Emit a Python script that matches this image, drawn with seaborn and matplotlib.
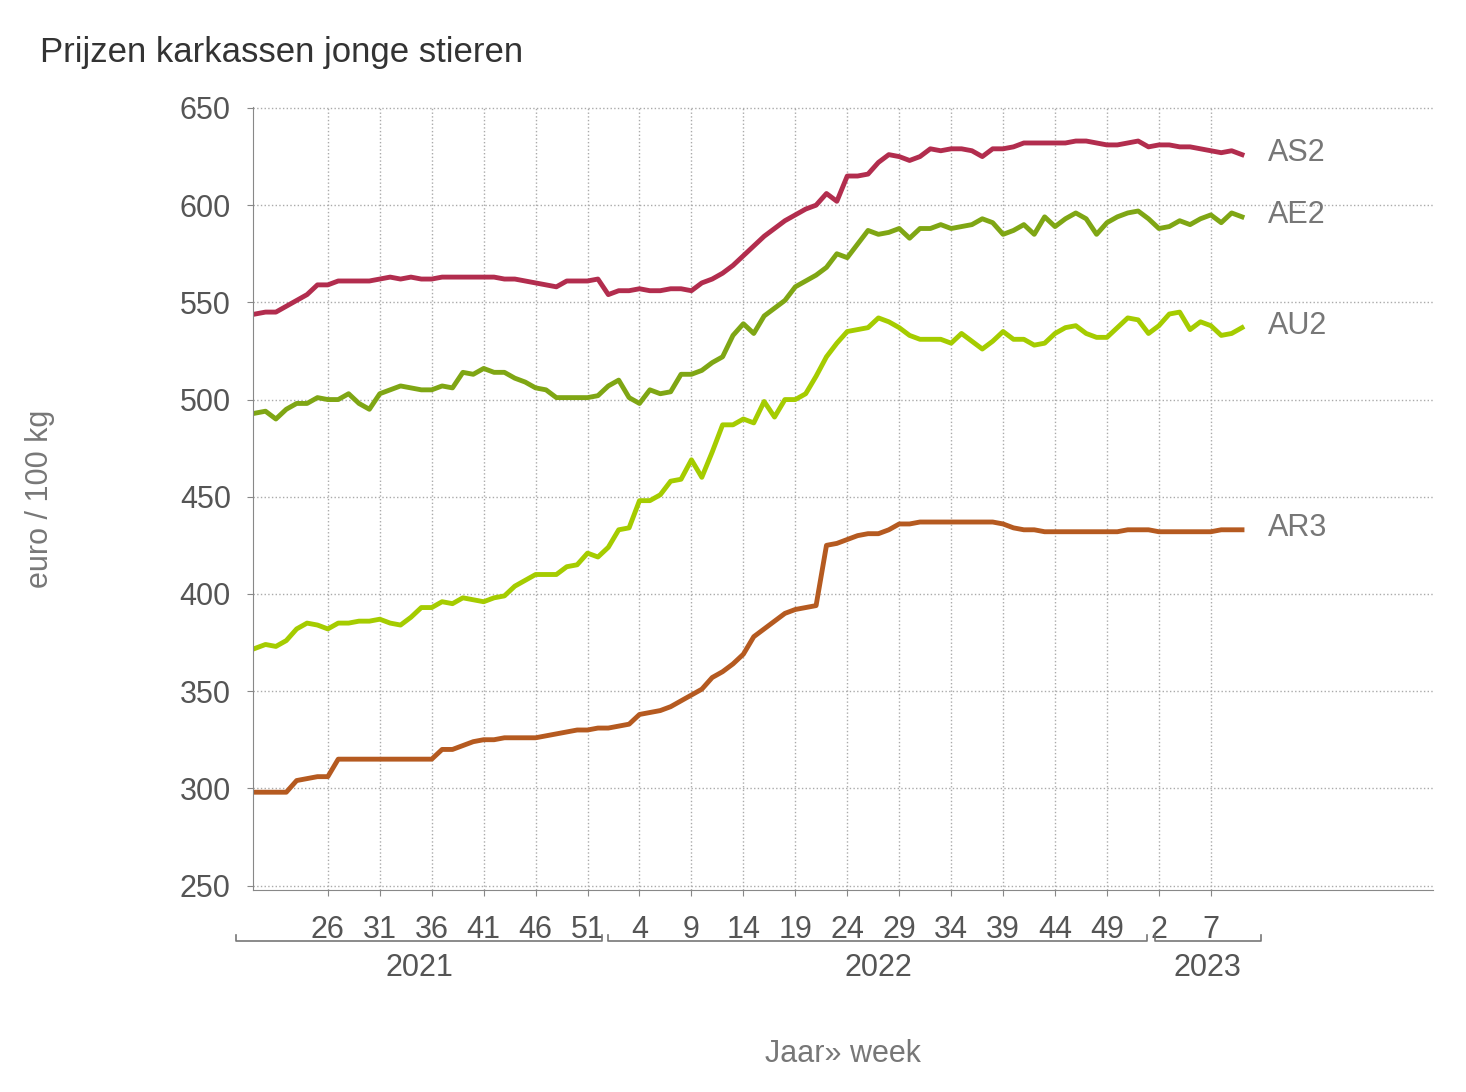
import numpy as np
import pandas as pd
import seaborn as sns
import matplotlib.pyplot as plt
import matplotlib.transforms as mtrans

plt.rcParams["font.family"] = "Liberation Sans"

# weeks: 2021 w19 .. 2023 w10
years = [2021] * 34 + [2022] * 52 + [2023] * 10
weeks = list(range(19, 53)) + list(range(1, 53)) + list(range(1, 11))

AS2 = [544,545,545,548,551,554,559,559,561,561,
       561,561,562,563,562,563,562,562,563,563,
       563,563,563,563,562,562,561,560,559,558,
       561,561,561,562,554,556,556,557,556,556,
       557,557,556,560,562,565,569,574,579,584,
       588,592,595,598,600,606,602,615,615,616,
       622,626,625,623,625,629,628,629,629,628,
       625,629,629,630,632,632,632,632,632,633,
       633,632,631,631,632,633,630,631,631,630,
       630,629,628,627,628,626]
AE2 = [493,494,490,495,498,498,501,500,500,503,
       498,495,503,505,507,506,505,505,507,506,
       514,513,516,514,514,511,509,506,505,501,
       501,501,501,502,507,510,501,498,505,503,
       504,513,513,515,519,522,533,539,534,543,
       547,551,558,561,564,568,575,573,580,587,
       585,586,588,583,588,588,590,588,589,590,
       593,591,585,587,590,585,594,589,593,596,
       593,585,591,594,596,597,593,588,589,592,
       590,593,595,591,596,594]
AU2 = [372,374,373,376,382,385,384,382,385,385,
       386,386,387,385,384,388,393,393,396,395,
       398,397,396,398,399,404,407,410,410,410,
       414,415,421,419,424,433,434,448,448,451,
       458,459,469,460,473,487,487,490,488,499,
       491,500,500,503,512,522,529,535,536,537,
       542,540,537,533,531,531,531,529,534,530,
       526,530,535,531,531,528,529,534,537,538,
       534,532,532,537,542,541,534,538,544,545,
       536,540,538,533,534,537]
AR3 = [298,298,298,298,304,305,306,306,315,315,
       315,315,315,315,315,315,315,315,320,320,
       322,324,325,325,326,326,326,326,327,328,
       329,330,330,331,331,332,333,338,339,340,
       342,345,348,351,357,360,364,369,378,382,
       386,390,392,393,394,425,426,428,430,431,
       431,433,436,436,437,437,437,437,437,437,
       437,437,436,434,433,433,432,432,432,432,
       432,432,432,432,433,433,433,432,432,432,
       432,432,432,433,433,433]

series = {"AS2": AS2, "AE2": AE2, "AU2": AU2, "AR3": AR3}
colors = {"AS2": "#b22d4e", "AE2": "#7fa614", "AU2": "#a5cc00", "AR3": "#b55a20"}

rows = []
for name, vals in series.items():
    for i, v in enumerate(vals):
        rows.append({"idx": i, "value": v, "serie": name})
df = pd.DataFrame(rows)

fig = plt.figure(figsize=(14.66, 10.92), dpi=100)
ax = fig.add_axes([0.1726, 0.185, 0.805, 0.717])
sns.lineplot(data=df, x="idx", y="value", hue="serie", palette=colors,
             linewidth=3.5, legend=False, ax=ax)

ax.set_xlim(-0.2, 113.4)
ax.set_ylim(247.7, 650.5)
yt = list(range(250, 651, 50))
ax.set_yticks(yt)
ax.set_yticklabels([str(v) for v in yt], fontsize=22, color="#555555")

tick_idx = [i for i, (y, w) in enumerate(zip(years, weeks))
            if (y == 2021 and w in (26, 31, 36, 41, 46, 51)) or
               (y == 2022 and w % 5 == 4) or (y == 2023 and w in (2, 7))]
ax.set_xticks(tick_idx)
ax.set_xticklabels([str(weeks[i]) for i in tick_idx], fontsize=22, color="#555555")
ax.tick_params(axis="x", length=4, color="#888888", pad=14)
ax.tick_params(axis="y", length=4, color="#888888", pad=12)
ax.grid(True, linestyle=":", color="#aaaaaa", linewidth=1)
for s in ["top", "right"]:
    ax.spines[s].set_visible(False)
for s in ["left", "bottom"]:
    ax.spines[s].set_color("#888888")

ax.set_xlabel("Jaar» week", fontsize=22, color="#777777", labelpad=68)
ax.set_ylabel("euro / 100 kg", fontsize=22, color="#777777", labelpad=90)

# year brackets
tr = mtrans.blended_transform_factory(ax.transData, ax.transAxes)
brackets = [(2021, -1.8, 33.4), (2022, 34.0, 85.9), (2023, 86.6, 96.8)]
for yr, a, b in brackets:
    ax.plot([a, a, b, b], [-0.058, -0.065, -0.065, -0.058], transform=tr,
            color="#777777", lw=1.2, clip_on=False)
    ax.text((a + b) / 2, -0.1, str(yr), transform=tr, ha="center", va="center",
            fontsize=22, color="#555555")

# series labels
for name, vals in series.items():
    ax.text(len(vals) + 1.5, vals[-1] + 1, name, fontsize=22, color="#777777", va="center")

fig.text(0.027, 0.952, "Prijzen karkassen jonge stieren", fontsize=25, color="#333333", va="center")
fig.savefig("out.png", dpi=100)
